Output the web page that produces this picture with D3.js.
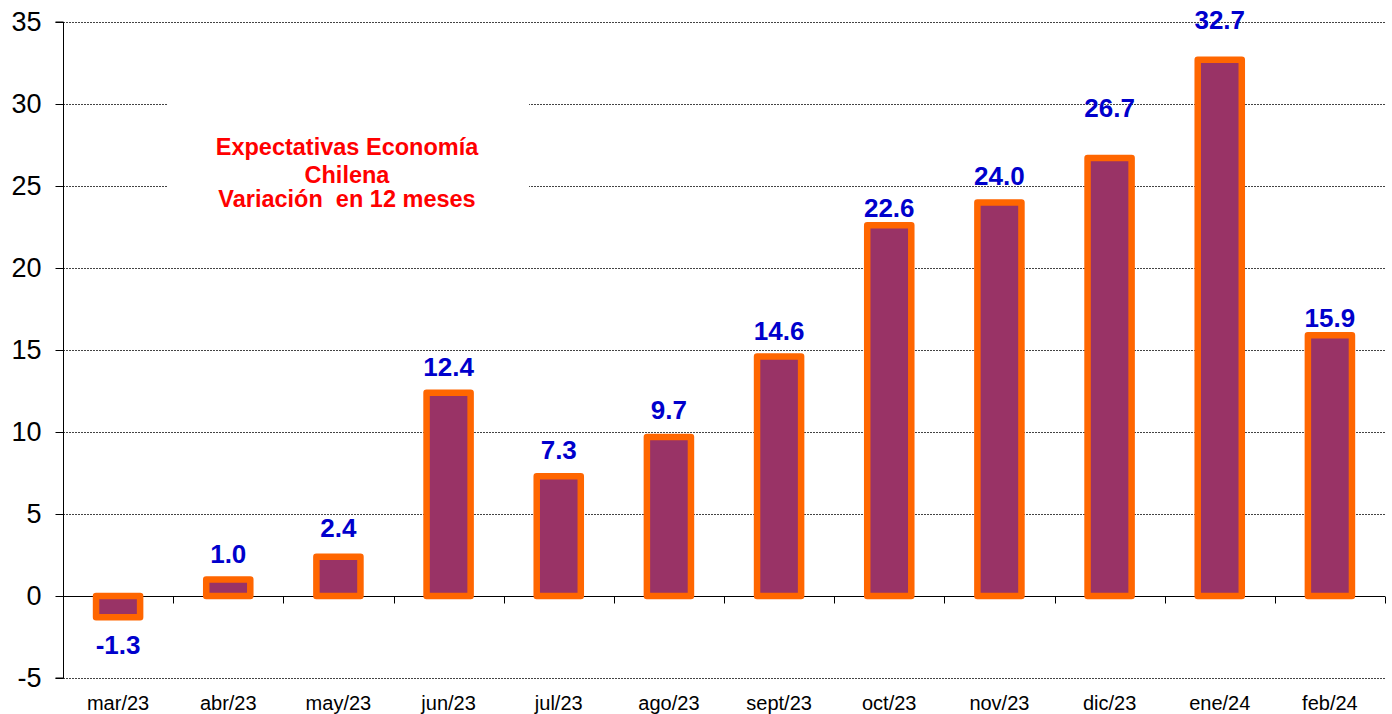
<!DOCTYPE html>
<html><head><meta charset="utf-8">
<script src="https://cdn.jsdelivr.net/npm/d3@7"></script>
<style>body{margin:0;background:#fff;} svg{display:block;}</style>
</head><body>
<svg id="c" width="1392" height="714"></svg>
<script>
const categories = ["mar/23","abr/23","may/23","jun/23","jul/23","ago/23","sept/23","oct/23","nov/23","dic/23","ene/24","feb/24"];
const values = [-1.3, 1.0, 2.4, 12.4, 7.3, 9.7, 14.6, 22.6, 24.0, 26.7, 32.7, 15.9];
const yTicks = [-5, 0, 5, 10, 15, 20, 25, 30, 35];
const titleLines = ["Expectativas Economía", "Chilena", "Variación  en 12 meses"];
// manual label nudges (pixels) as in the original
const labelNudge = [0, 0, -3, 0, 0, -1, 0, 9, 0, -24, -14, 9];

const hy = s => s.replace("\u2212", "-");
const svg = d3.select("#c");
const L = 63, R = 1385, T = 22, B = 678;
const y = d3.scaleLinear().domain([-5, 35]).range([B, T]);
const x = d3.scaleBand().domain(categories).range([L, R]).paddingInner(0.6).paddingOuter(0.3);
const step = x.step();

// gridlines
svg.append("g").selectAll("line").data(yTicks.filter(d => d !== 0)).join("line")
  .attr("x1", L).attr("x2", R)
  .attr("y1", d => Math.round(y(d)) + 0.5).attr("y2", d => Math.round(y(d)) + 0.5)
  .attr("stroke", "#444").attr("stroke-width", 1).attr("stroke-dasharray", "2,1");

// title box (white, hides gridlines)
svg.append("rect").attr("x", 168).attr("y", 94).attr("width", 361).attr("height", 122).attr("fill", "#fff");
svg.append("g").selectAll("text").data(titleLines).join("text")
  .attr("x", 347).attr("y", (d, i) => [155, 183, 207][i])
  .attr("text-anchor", "middle")
  .attr("font-family", "Liberation Sans, Arial, sans-serif").attr("font-weight", "bold")
  .attr("font-size", 23.5).attr("fill", "#ff0000")
  .style("white-space", "pre")
  .text(d => d);

// y axis
const yAxis = d3.axisLeft(y).tickValues(yTicks).tickSize(8).tickPadding(14).tickFormat(d => hy(d3.format("d")(d)));
const ga = svg.append("g").attr("transform", `translate(${L + 0.5},0)`).call(yAxis);
ga.select(".domain").attr("stroke", "#000").attr("d", `M-8,${y(35)}H0V${y(-5)}H-8`);
ga.selectAll(".tick line").attr("stroke", "#000");
ga.selectAll(".tick text").attr("font-family", "Liberation Sans, Arial, sans-serif")
  .attr("font-size", 27).attr("fill", "#000");

// x axis at zero
const y0 = Math.round(y(0)) + 0.5;
svg.append("line").attr("x1", L).attr("x2", R).attr("y1", y0).attr("y2", y0).attr("stroke", "#000");
svg.append("g").selectAll("line").data(d3.range(categories.length + 1)).join("line")
  .attr("x1", i => Math.round(L + i * step) + 0.5).attr("x2", i => Math.round(L + i * step) + 0.5)
  .attr("y1", y0).attr("y2", y0 + 7).attr("stroke", "#000");
svg.append("g").selectAll("text").data(categories).join("text")
  .attr("x", d => x(d) + x.bandwidth() / 2).attr("y", 710)
  .attr("text-anchor", "middle")
  .attr("font-family", "Liberation Sans, Arial, sans-serif").attr("font-size", 20).attr("fill", "#000")
  .text(d => d);

// bars
svg.append("g").selectAll("rect").data(values).join("rect")
  .attr("x", (d, i) => x(categories[i]))
  .attr("width", x.bandwidth())
  .attr("y", d => y(Math.max(0, d)))
  .attr("height", d => Math.abs(y(d) - y(0)))
  .attr("fill", "#993366").attr("stroke", "#ff6600").attr("stroke-width", 6.5)
  .attr("stroke-linejoin", "round");

// value labels
svg.append("g").selectAll("text").data(values).join("text")
  .attr("x", (d, i) => x(categories[i]) + x.bandwidth() / 2)
  .attr("y", (d, i) => (d >= 0 ? y(d) - 26 : y(d) + 28) + labelNudge[i] + 9)
  .attr("text-anchor", "middle")
  .attr("font-family", "Liberation Sans, Arial, sans-serif").attr("font-weight", "bold")
  .attr("font-size", 26).attr("fill", "#0000cc")
  .text(d => hy(d3.format(".1f")(d)));
</script>
</body></html>
